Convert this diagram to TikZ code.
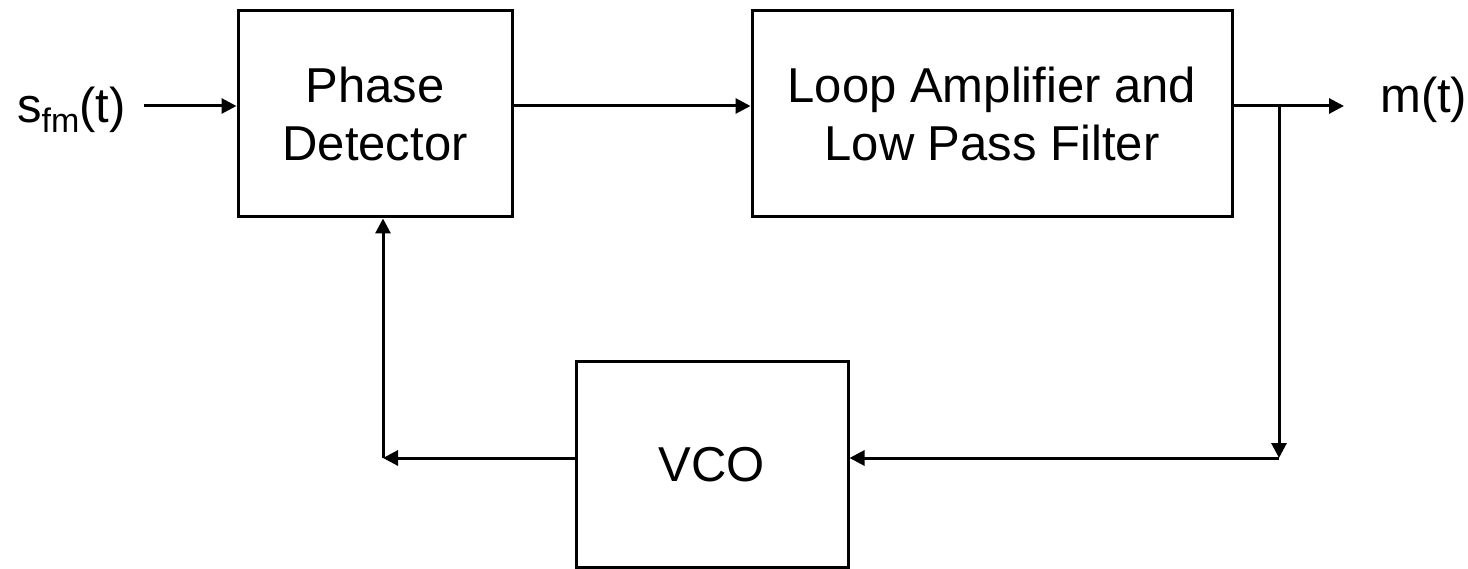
\documentclass[tikz,border=0pt]{standalone}
\usepackage{fontspec}
\setmainfont{Liberation Sans}
\usetikzlibrary{arrows.meta}
\begin{document}
\begin{tikzpicture}[x=1pt,y=-1pt,
  blk/.style={draw=black,line width=3pt,inner sep=0pt,align=center,
    font=\fontsize{49}{58}\selectfont},
  lbl/.style={inner sep=0pt,font=\fontsize{49}{58}\selectfont},
  conn/.style={line width=3pt,-{Triangle[length=15pt,width=15pt]}}]
\useasboundingbox (0,0) rectangle (1468,569);
\node[blk,minimum width=274pt,minimum height=206pt] (pd) at (375,114) {Phase\\Detector};
\node[blk,minimum width=480pt,minimum height=206pt] (lp) at (992,114) {Loop Amplifier and\\Low Pass Filter};
\node[blk,minimum width=272pt,minimum height=205pt] (vco) at (712,464.5) {VCO};
\node[lbl,anchor=base west] (in) at (17,123) {s\raisebox{-10pt}{\fontsize{34}{34}\selectfont fm}(t)};
\node[lbl,anchor=base west] (out) at (1380,113) {m(t)};
\coordinate (inS) at (144,106);
\coordinate (outE) at (1344,106);
\coordinate (br) at (1279,106);
\coordinate (brD) at (1279,458);
\coordinate (cl) at (383,458);
\draw[conn] (inS) -- (inS -| pd.west);
\draw[conn] (inS -| pd.east) -- (inS -| lp.west);
\draw[conn] (inS -| lp.east) -- (outE);
\draw[conn] (br) -- (brD);
\draw[conn] (brD) -- (brD -| vco.east);
\draw[conn] (brD -| vco.west) -- (cl);
\draw[conn] (cl) -- (cl |- pd.south);
\end{tikzpicture}
\end{document}
